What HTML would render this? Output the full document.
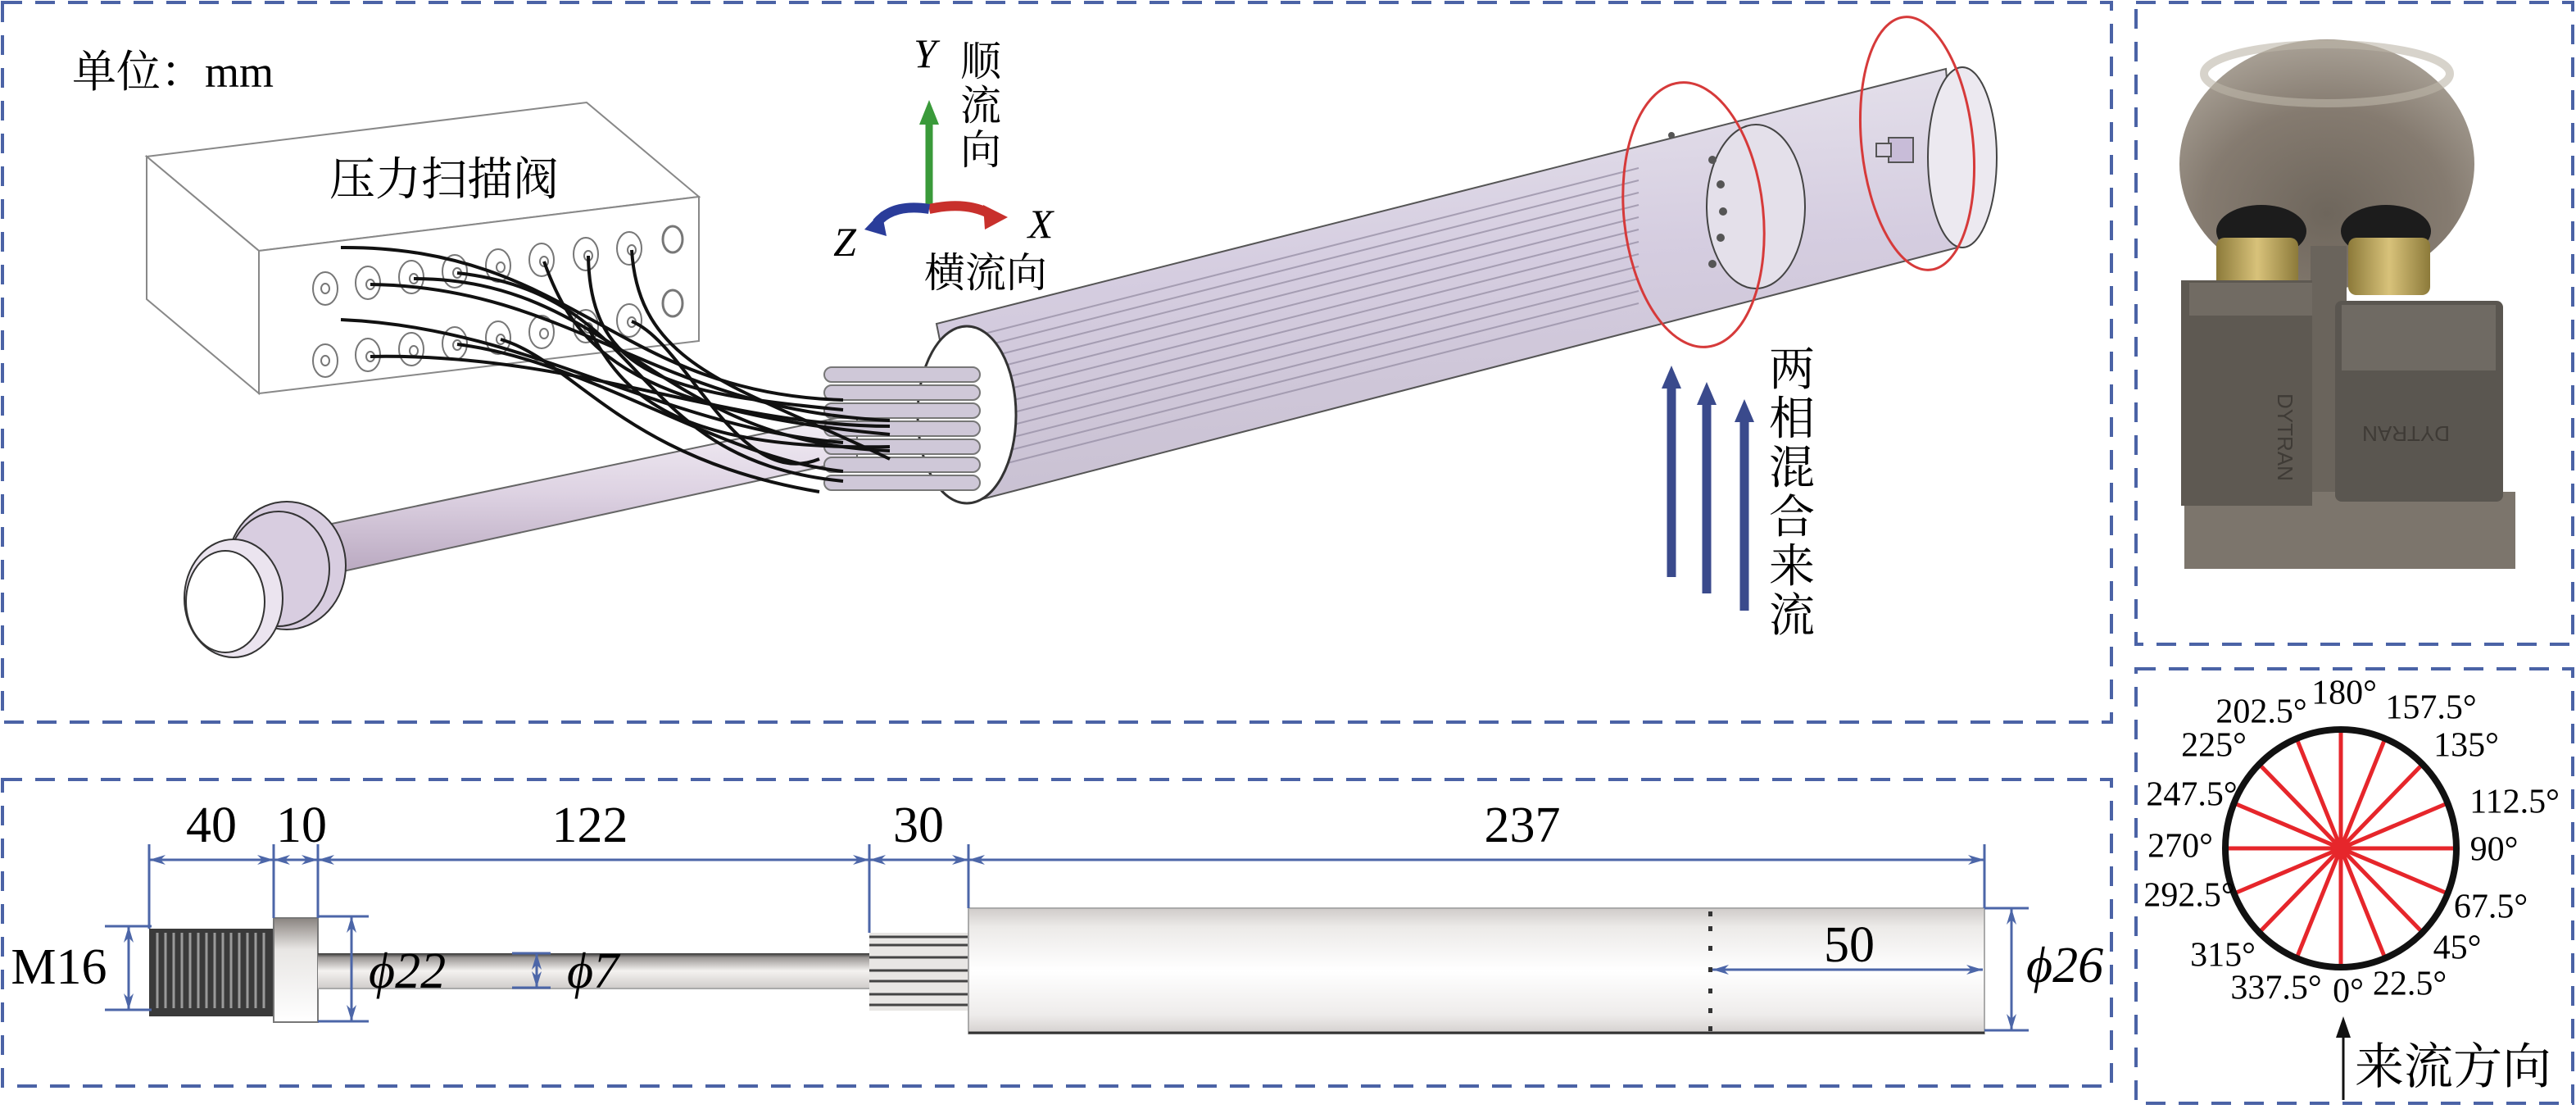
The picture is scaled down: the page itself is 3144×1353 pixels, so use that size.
<!DOCTYPE html>
<html><head><meta charset="utf-8"><style>
html,body{margin:0;padding:0;background:#fff}
svg{display:block}
.serif{font-family:"Liberation Serif","Noto Serif CJK SC",serif}
.cjk{font-family:"Liberation Serif","Noto Serif CJK SC","Noto Sans CJK SC",serif}
</style></head><body>
<svg width="3144" height="1353" viewBox="0 0 3144 1353" xmlns="http://www.w3.org/2000/svg">
<defs>
<linearGradient id="rod" x1="0" y1="0" x2="0" y2="1"><stop offset="0" stop-color="#f4f0f6"/><stop offset="0.5" stop-color="#ddd2e2"/><stop offset="1" stop-color="#b9a8c0"/></linearGradient>
<linearGradient id="cyl" x1="0" y1="0" x2="0.15" y2="1"><stop offset="0" stop-color="#e9e6ee"/><stop offset="0.5" stop-color="#d5cde0"/><stop offset="1" stop-color="#c9c1d2"/></linearGradient>
<linearGradient id="cyl2" x1="0" y1="0" x2="0" y2="1"><stop offset="0" stop-color="#cfcbc9"/><stop offset="0.15" stop-color="#eceae8"/><stop offset="0.5" stop-color="#ffffff"/><stop offset="0.85" stop-color="#eeeceb"/><stop offset="1" stop-color="#d4d0ce"/></linearGradient>
<linearGradient id="rod2" x1="0" y1="0" x2="0" y2="1"><stop offset="0" stop-color="#333"/><stop offset="0.12" stop-color="#9a9694"/><stop offset="0.5" stop-color="#f4f2f0"/><stop offset="1" stop-color="#d0ccca"/></linearGradient>
<linearGradient id="fl" x1="0" y1="0" x2="0" y2="1"><stop offset="0" stop-color="#8a8480"/><stop offset="0.3" stop-color="#e8e6e4"/><stop offset="1" stop-color="#fff"/></linearGradient>
<radialGradient id="disc" cx="0.5" cy="0.7" r="0.7"><stop offset="0" stop-color="#6e665c"/><stop offset="0.6" stop-color="#857b70"/><stop offset="1" stop-color="#a9a196"/></radialGradient>
<linearGradient id="gold" x1="0" y1="0" x2="1" y2="0"><stop offset="0" stop-color="#8c7a3a"/><stop offset="0.5" stop-color="#d8c27a"/><stop offset="1" stop-color="#8c7a3a"/></linearGradient>
<marker id="ah" viewBox="0 0 20 12" refX="20" refY="6" markerWidth="20" markerHeight="12" markerUnits="userSpaceOnUse" orient="auto-start-reverse"><path d="M0,0 L20,6 L0,12 L6,6z" fill="#4c66a8"/></marker>
</defs>

<g fill="none" stroke="#4b63a6" stroke-width="4" stroke-dasharray="24 16">
<rect x="3" y="3" width="2574" height="878"/>
<rect x="3" y="951" width="2574" height="374"/>
<rect x="2607" y="3" width="533" height="783"/>
<rect x="2607" y="816" width="533" height="530"/>
</g>

<text x="88" y="106" class="cjk" font-size="54">单位：mm</text>

<g fill="#fff" stroke="#888" stroke-width="2">
<polygon points="179,191 716,125 853,240 316,306"/>
<polygon points="179,191 316,306 316,480 179,365"/>
<polygon points="316,306 853,240 853,416 316,480"/>
</g>
<text x="542" y="238" class="cjk" font-size="56" text-anchor="middle">压力扫描阀</text>
<g fill="none" stroke="#777" stroke-width="2">
<g id="prow">
<ellipse cx="397" cy="352" rx="15" ry="20"/><ellipse cx="397" cy="352" rx="5" ry="6"/>
<ellipse cx="449" cy="345" rx="15" ry="20"/><ellipse cx="452" cy="347" rx="5" ry="6"/>
<ellipse cx="502" cy="338" rx="15" ry="20"/><ellipse cx="505" cy="340" rx="5" ry="6"/>
<ellipse cx="555" cy="331" rx="15" ry="20"/><ellipse cx="558" cy="333" rx="5" ry="6"/>
<ellipse cx="608" cy="324" rx="15" ry="20"/><ellipse cx="611" cy="326" rx="5" ry="6"/>
<ellipse cx="661" cy="317" rx="15" ry="20"/><ellipse cx="664" cy="319" rx="5" ry="6"/>
<ellipse cx="715" cy="310" rx="15" ry="20"/><ellipse cx="718" cy="312" rx="5" ry="6"/>
<ellipse cx="768" cy="303" rx="15" ry="20"/><ellipse cx="771" cy="305" rx="5" ry="6"/>
</g>
<use href="#prow" transform="translate(0,88)"/>
<ellipse cx="821" cy="292" rx="12" ry="16" stroke-width="3"/>
<ellipse cx="821" cy="370" rx="12" ry="16" stroke-width="3"/>
</g>

<polygon points="400,640 1046,505 1046,560 405,700" fill="url(#rod)" stroke="#666" stroke-width="2"/>
<ellipse cx="350" cy="690" rx="72" ry="78" fill="#d8cde0" stroke="#333" stroke-width="2"/>
<ellipse cx="340" cy="694" rx="62" ry="70" fill="none" stroke="#333" stroke-width="2"/>
<ellipse cx="285" cy="730" rx="60" ry="72" fill="#ebe4ef" stroke="#333" stroke-width="2"/>
<ellipse cx="275" cy="734" rx="48" ry="62" fill="#fff" stroke="#333" stroke-width="2"/>

<polygon points="1143,395 2375,84 2393,301 1187,612" fill="url(#cyl)" stroke="#555" stroke-width="2"/>
<g stroke="#9a92a8" stroke-width="2" opacity="0.8">
<line x1="1170" y1="430" x2="2000" y2="220"/><line x1="1170" y1="445" x2="2000" y2="235"/>
<line x1="1170" y1="460" x2="2000" y2="250"/><line x1="1170" y1="475" x2="2000" y2="265"/>
<line x1="1170" y1="490" x2="2000" y2="280"/><line x1="1170" y1="505" x2="2000" y2="295"/>
<line x1="1170" y1="520" x2="2000" y2="310"/><line x1="1170" y1="535" x2="2000" y2="325"/>
<line x1="1170" y1="550" x2="2000" y2="340"/><line x1="1170" y1="565" x2="2000" y2="355"/>
<line x1="1170" y1="580" x2="2000" y2="370"/><line x1="1170" y1="415" x2="2000" y2="205"/>
</g>
<ellipse cx="2143" cy="252" rx="60" ry="100" fill="#e4e0ea" stroke="#444" stroke-width="2"/>
<ellipse cx="2395" cy="192" rx="42" ry="110" fill="#ece9f0" stroke="#444" stroke-width="2"/>
<g fill="#555"><circle cx="2090" cy="195" r="5"/><circle cx="2100" cy="225" r="5"/><circle cx="2103" cy="258" r="5"/><circle cx="2100" cy="290" r="5"/><circle cx="2090" cy="322" r="5"/><circle cx="2040" cy="165" r="4"/></g>
<rect x="2305" y="168" width="30" height="30" fill="#c8bcd8" stroke="#555" stroke-width="2"/>
<rect x="2290" y="175" width="18" height="16" fill="#d8d0e2" stroke="#555" stroke-width="2"/>
<ellipse cx="1180" cy="506" rx="60" ry="108" fill="#fff" stroke="#333" stroke-width="3"/>
<g fill="#cfc8d8" stroke="#777" stroke-width="2">
<rect x="1006" y="448" width="190" height="18" rx="9"/><rect x="1006" y="470" width="190" height="18" rx="9"/>
<rect x="1006" y="492" width="190" height="18" rx="9"/><rect x="1006" y="514" width="190" height="18" rx="9"/>
<rect x="1006" y="536" width="190" height="18" rx="9"/><rect x="1006" y="558" width="190" height="18" rx="9"/>
<rect x="1006" y="580" width="190" height="18" rx="9"/>
</g>
<g fill="none" stroke="#111" stroke-width="4">
<path d="M416,302 C700,300 750,480 1029,488"/>
<path d="M452,347 C700,350 800,500 1086,513"/>
<path d="M505,340 C750,340 800,540 1086,550"/>
<path d="M558,333 C800,360 760,560 1029,587"/>
<path d="M664,319 C700,420 760,500 1086,530"/>
<path d="M718,312 C720,460 820,480 1029,500"/>
<path d="M771,305 C780,450 900,470 1086,560"/>
<path d="M416,390 C650,400 800,520 1029,540"/>
<path d="M452,435 C700,430 880,520 1086,520"/>
<path d="M558,420 C720,440 880,560 1029,575"/>
<path d="M611,414 C700,440 760,560 1000,600"/>
<path d="M718,400 C760,480 820,550 1086,545"/>
<path d="M771,392 C840,420 900,600 1000,560"/>
</g>

<ellipse cx="2067" cy="262" rx="85" ry="162" fill="none" stroke="#d63a3a" stroke-width="3" transform="rotate(-6 2067 262)"/>
<ellipse cx="2340" cy="175" rx="68" ry="155" fill="none" stroke="#d63a3a" stroke-width="3" transform="rotate(-6 2340 175)"/>

<g stroke="#3a4a8c" stroke-width="11" fill="none">
<line x1="2040" y1="704" x2="2040" y2="470"/>
<line x1="2083" y1="724" x2="2083" y2="490"/>
<line x1="2129" y1="745" x2="2129" y2="511"/>
</g>
<g fill="#3a4a8c">
<path d="M2028,474 L2040,446 L2052,474z"/>
<path d="M2071,494 L2083,466 L2095,494z"/>
<path d="M2117,515 L2129,487 L2141,515z"/>
</g>
<g class="cjk" font-size="56" text-anchor="middle">
<text x="2187" y="470">两</text><text x="2187" y="530">相</text><text x="2187" y="590">混</text>
<text x="2187" y="650">合</text><text x="2187" y="710">来</text><text x="2187" y="770">流</text>
</g>

<line x1="1134" y1="255" x2="1134" y2="150" stroke="#3a9a3a" stroke-width="9"/>
<path d="M1122,152 L1134,122 L1146,152z" fill="#3a9a3a"/>
<path d="M1134,255 Q1180,245 1210,262" stroke="#c8302c" stroke-width="12" fill="none"/>
<path d="M1200,250 L1230,265 L1202,280z" fill="#c8302c"/>
<path d="M1134,255 Q1090,248 1070,272" stroke="#2a3c9a" stroke-width="12" fill="none"/>
<path d="M1076,258 L1055,280 L1082,288z" fill="#2a3c9a"/>
<text x="1129" y="82" class="serif" font-size="50" font-style="italic" text-anchor="middle">Y</text>
<text x="1270" y="290" class="serif" font-size="50" font-style="italic" text-anchor="middle">X</text>
<text x="1031" y="312" class="serif" font-size="50" font-style="italic" text-anchor="middle">Z</text>
<g class="cjk" font-size="50" text-anchor="middle">
<text x="1197" y="92">顺</text><text x="1197" y="146">流</text><text x="1197" y="200">向</text>
</g>
<text x="1203" y="350" class="cjk" font-size="50" text-anchor="middle">横流向</text>

<!-- PHOTO -->
<ellipse cx="2840" cy="200" rx="180" ry="152" fill="url(#disc)"/>
<ellipse cx="2840" cy="90" rx="150" ry="36" fill="none" stroke="#bdb5a8" stroke-width="10" opacity="0.6"/>
<rect x="2820" y="300" width="44" height="320" fill="#6a645c"/>
<ellipse cx="2760" cy="282" rx="55" ry="32" fill="#1c1c1c"/>
<ellipse cx="2912" cy="282" rx="55" ry="32" fill="#1c1c1c"/>
<rect x="2705" y="290" width="100" height="66" rx="10" fill="url(#gold)"/>
<rect x="2866" y="290" width="100" height="70" rx="10" fill="url(#gold)"/>
<rect x="2666" y="600" width="404" height="94" fill="#7c756c"/>
<rect x="2662" y="342" width="160" height="275" fill="#5e5952"/>
<rect x="2672" y="345" width="150" height="40" fill="#716b63"/>
<rect x="2850" y="367" width="205" height="245" rx="8" fill="#5a5650"/>
<rect x="2858" y="372" width="188" height="80" fill="#6f6a63"/>
<text x="2780" y="480" font-family="Liberation Sans,sans-serif" font-size="26" fill="#3f3b36" transform="rotate(90 2780 480)">DYTRAN</text>
<text x="2990" y="520" font-family="Liberation Sans,sans-serif" font-size="26" fill="#3f3b36" transform="rotate(180 2990 520)">DYTRAN</text>

<!-- DIMENSION DRAWING -->
<rect x="182" y="1133" width="152" height="107" fill="#3a3a3a"/>
<g stroke="#9a9a9a" stroke-width="3">
<line x1="192" y1="1138" x2="192" y2="1230"/><line x1="202" y1="1138" x2="202" y2="1230"/><line x1="212" y1="1138" x2="212" y2="1230"/><line x1="222" y1="1138" x2="222" y2="1230"/><line x1="232" y1="1138" x2="232" y2="1230"/><line x1="242" y1="1138" x2="242" y2="1230"/><line x1="252" y1="1138" x2="252" y2="1230"/><line x1="262" y1="1138" x2="262" y2="1230"/><line x1="272" y1="1138" x2="272" y2="1230"/><line x1="282" y1="1138" x2="282" y2="1230"/><line x1="292" y1="1138" x2="292" y2="1230"/><line x1="302" y1="1138" x2="302" y2="1230"/><line x1="312" y1="1138" x2="312" y2="1230"/><line x1="322" y1="1138" x2="322" y2="1230"/>
</g>
<rect x="334" y="1120" width="54" height="127" fill="url(#fl)" stroke="#777" stroke-width="2"/>
<rect x="388" y="1163" width="673" height="43" fill="url(#rod2)"/>
<line x1="388" y1="1206" x2="1061" y2="1206" stroke="#aaa" stroke-width="2"/>
<rect x="1061" y="1138" width="121" height="95" fill="#e8e6e4"/>
<g stroke="#444" stroke-width="3"><line x1="1061" y1="1143" x2="1182" y2="1143"/><line x1="1061" y1="1153" x2="1182" y2="1153"/><line x1="1061" y1="1168" x2="1182" y2="1168"/><line x1="1061" y1="1184" x2="1182" y2="1184"/><line x1="1061" y1="1197" x2="1182" y2="1197"/><line x1="1061" y1="1213" x2="1182" y2="1213"/><line x1="1061" y1="1226" x2="1182" y2="1226"/></g>
<rect x="1182" y="1108" width="1240" height="153" fill="url(#cyl2)" stroke="#aaa" stroke-width="2"/>
<line x1="1182" y1="1260" x2="2422" y2="1260" stroke="#333" stroke-width="3"/>
<g fill="#333"><rect x="2085" y="1112" width="5" height="6"/><rect x="2085" y="1130" width="5" height="6"/><rect x="2085" y="1154" width="5" height="6"/><rect x="2085" y="1180" width="5" height="6"/><rect x="2085" y="1206" width="5" height="6"/><rect x="2085" y="1230" width="5" height="6"/><rect x="2085" y="1252" width="5" height="6"/></g>

<g stroke="#4c66a8" stroke-width="3" fill="none">
<line x1="182" y1="1030" x2="182" y2="1133"/>
<line x1="334" y1="1030" x2="334" y2="1120"/>
<line x1="388" y1="1030" x2="388" y2="1120"/>
<line x1="1061" y1="1030" x2="1061" y2="1138"/>
<line x1="1182" y1="1030" x2="1182" y2="1108"/>
<line x1="2422" y1="1030" x2="2422" y2="1108"/>
<line x1="182" y1="1049" x2="334" y2="1049" marker-start="url(#ah)" marker-end="url(#ah)"/>
<line x1="334" y1="1049" x2="388" y2="1049" marker-start="url(#ah)" marker-end="url(#ah)"/>
<line x1="388" y1="1049" x2="1061" y2="1049" marker-start="url(#ah)" marker-end="url(#ah)"/>
<line x1="1061" y1="1049" x2="1182" y2="1049" marker-start="url(#ah)" marker-end="url(#ah)"/>
<line x1="1182" y1="1049" x2="2422" y2="1049" marker-start="url(#ah)" marker-end="url(#ah)"/>
<line x1="128" y1="1130" x2="185" y2="1130"/><line x1="128" y1="1232" x2="185" y2="1232"/>
<line x1="157" y1="1130" x2="157" y2="1232" marker-start="url(#ah)" marker-end="url(#ah)"/>
<line x1="388" y1="1118" x2="450" y2="1118"/><line x1="388" y1="1246" x2="450" y2="1246"/>
<line x1="429" y1="1118" x2="429" y2="1246" marker-start="url(#ah)" marker-end="url(#ah)"/>
<line x1="625" y1="1163" x2="672" y2="1163"/><line x1="625" y1="1205" x2="672" y2="1205"/>
<line x1="655" y1="1163" x2="655" y2="1205" marker-start="url(#ah)" marker-end="url(#ah)"/>
<line x1="2422" y1="1108" x2="2476" y2="1108"/><line x1="2422" y1="1257" x2="2476" y2="1257"/>
<line x1="2455" y1="1108" x2="2455" y2="1257" marker-start="url(#ah)" marker-end="url(#ah)"/>
<line x1="2090" y1="1183" x2="2420" y2="1183" marker-start="url(#ah)" marker-end="url(#ah)"/>
</g>
<g class="serif" font-size="62" text-anchor="middle">
<text x="258" y="1027">40</text><text x="368" y="1027">10</text><text x="720" y="1027">122</text>
<text x="1121" y="1027">30</text><text x="1858" y="1027">237</text><text x="2257" y="1173">50</text>
<text x="72" y="1200">M16</text>
</g>
<g class="serif" font-size="62" font-style="italic">
<text x="450" y="1205">ϕ22</text><text x="692" y="1205">ϕ7</text><text x="2473" y="1198">ϕ26</text>
</g>

<!-- POLAR -->
<g stroke="#e6262b" stroke-width="5">
<line x1="2857" y1="1180" x2="2857" y2="890"/>
<line x1="2911" y1="1169" x2="2803" y2="901"/>
<line x1="2957" y1="1138" x2="2757" y2="932"/>
<line x1="2987" y1="1090" x2="2727" y2="980"/>
<line x1="2998" y1="1035" x2="2716" y2="1035"/>
<line x1="2987" y1="980" x2="2727" y2="1090"/>
<line x1="2957" y1="932" x2="2757" y2="1138"/>
<line x1="2911" y1="901" x2="2803" y2="1169"/>
</g>
<circle cx="2857" cy="1035" r="12" fill="#e6262b"/>
<ellipse cx="2857" cy="1035" rx="141" ry="145" fill="none" stroke="#111" stroke-width="8"/>
<g class="serif" font-size="42" text-anchor="middle" dominant-baseline="middle">
<text x="2861" y="849">180°</text><text x="2760" y="872">202.5°</text><text x="2967" y="867">157.5°</text>
<text x="2702" y="913">225°</text><text x="3010" y="913">135°</text>
<text x="2675" y="973">247.5°</text><text x="3069" y="982">112.5°</text>
<text x="2661" y="1036">270°</text><text x="3044" y="1040">90°</text>
<text x="2672" y="1096">292.5°</text><text x="3040" y="1110">67.5°</text>
<text x="2713" y="1169">315°</text><text x="2999" y="1160">45°</text>
<text x="2778" y="1209">337.5°</text><text x="2866" y="1213">0°</text><text x="2941" y="1204">22.5°</text>
</g>
<line x1="2860" y1="1342" x2="2860" y2="1262" stroke="#111" stroke-width="3"/>
<path d="M2851,1266 L2860,1240 L2869,1266z" fill="#111"/>
<text x="2874" y="1322" class="cjk" font-size="60">来流方向</text>
</svg>
</body></html>
